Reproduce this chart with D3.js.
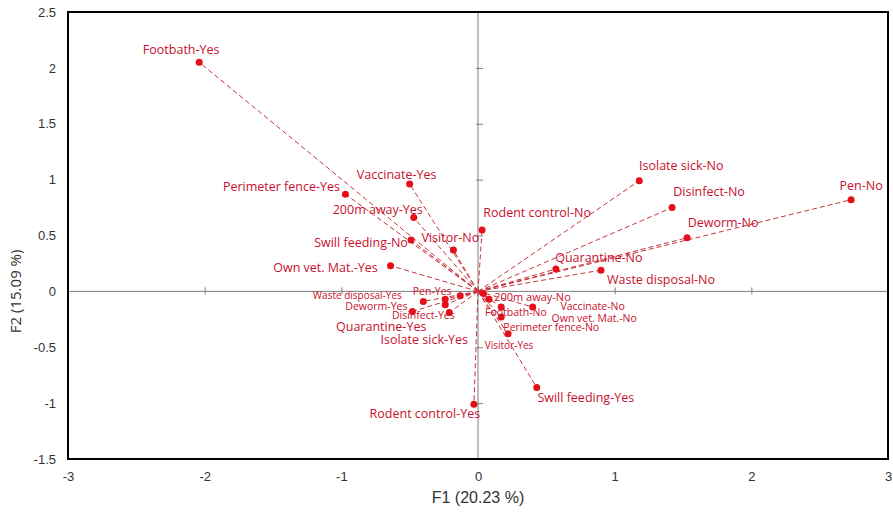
<!DOCTYPE html>
<html><head><meta charset="utf-8">
<script src="https://cdn.jsdelivr.net/npm/d3@7"></script>
<style>body{margin:0;background:#fff}svg{display:block}</style>
</head><body><svg id="c" width="893" height="517"></svg>
<script>
// ---- data ----
const labels = ["Footbath-Yes","Perimeter fence-Yes","Vaccinate-Yes","200m away-Yes","Swill feeding-No","Visitor-No","Own vet. Mat.-Yes","Rodent control-No","Isolate sick-No","Disinfect-No","Pen-No","Deworm-No","Quarantine-No","Waste disposal-No","Swill feeding-Yes","Rodent control-Yes","Waste disposal-Yes","Pen-Yes","Deworm-Yes","Disinfect-Yes","Quarantine-Yes","Isolate sick-Yes","200m away-No","Footbath-No","Vaccinate-No","Own vet. Mat.-No","Perimeter fence-No","Visitor-Yes"];
const f1 = [-2.04,-0.97,-0.50,-0.47,-0.49,-0.18,-0.64,0.03,1.18,1.42,2.73,1.53,0.57,0.90,0.43,-0.03,-0.40,-0.24,-0.48,-0.21,-0.24,-0.13,0.04,0.08,0.40,0.17,0.17,0.22];
const f2 = [2.05,0.87,0.96,0.66,0.46,0.37,0.23,0.55,0.99,0.75,0.82,0.48,0.20,0.19,-0.86,-1.01,-0.09,-0.07,-0.18,-0.19,-0.12,-0.04,-0.02,-0.07,-0.14,-0.14,-0.23,-0.38];
const xTicks = [-3,-2,-1,0,1,2,3];
const yTicks = [-1.5,-1,-0.5,0,0.5,1,1.5,2,2.5];
const xTitle = "F1 (20.23 %)";
const yTitle = "F2 (15.09 %)";

// ---- layout (label placement relative to point, in px; font size) ----
const labelLayout = {
 "Footbath-Yes":[-18,-13,12.5],"Perimeter fence-Yes":[-64,-8,12.5],"Vaccinate-Yes":[-13,-10,12.5],
 "200m away-Yes":[-36,-8,12.5],"Swill feeding-No":[-50,3,12.5],"Visitor-No":[-3,-13,12.5],
 "Own vet. Mat.-Yes":[-65,2,12.5],"Rodent control-No":[55,-17,12.5],"Isolate sick-No":[42,-15,12.5],
 "Disinfect-No":[37,-16,12.5],"Pen-No":[10,-14,12.5],"Deworm-No":[36,-15,12.5],
 "Quarantine-No":[43,-12,12.5],"Waste disposal-No":[60,9,12.5],"Swill feeding-Yes":[49,10,12.5],
 "Rodent control-Yes":[-49,9,12.5],"Waste disposal-Yes":[-66,-6.5,10],"Pen-Yes":[-13,-8,10.5],
 "Deworm-Yes":[-36,-5,10.5],"Disinfect-Yes":[-26,2,10.5],"Quarantine-Yes":[-64,22,12.5],
 "Isolate sick-Yes":[-36,44,12.5],"200m away-No":[49,3,11],"Footbath-No":[27,13,10.5],
 "Vaccinate-No":[60,-1,10.5],"Own vet. Mat.-No":[93,11,10.5],"Perimeter fence-No":[50,10,10.5],
 "Visitor-Yes":[1,11,10]
};

const svg = d3.select("#c");
const L=68, R=888, T=12, B=459;
const x = d3.scaleLinear().domain([-3,3]).range([L,R]);
const y = d3.scaleLinear().domain([-1.5,2.5]).range([B,T]);
const red="#e3101a", lineRed="#c8333a", textRed="#c8102e";

// zero lines
svg.append("line").attr("x1",L).attr("x2",R).attr("y1",y(0)).attr("y2",y(0)).attr("stroke","#7f7f7f").attr("stroke-width",1);
svg.append("line").attr("y1",T).attr("y2",B).attr("x1",x(0)).attr("x2",x(0)).attr("stroke","#7f7f7f").attr("stroke-width",1);
// tick marks on zero lines
svg.append("g").attr("transform",`translate(${x(0)},0)`)
  .call(d3.axisRight(y).tickValues(yTicks).tickSize(5).tickFormat(""))
  .call(g=>{g.select(".domain").remove();g.selectAll("line").attr("stroke","#7f7f7f").attr("x1",-2);});
svg.append("g").attr("transform",`translate(0,${y(0)})`)
  .call(d3.axisTop(x).tickValues(xTicks).tickSize(4).tickFormat(""))
  .call(g=>{g.select(".domain").remove();g.selectAll("line").attr("stroke","#7f7f7f").attr("y1",3);});

// axes labels
const yAx = svg.append("g").attr("transform",`translate(${L},0)`)
  .call(d3.axisLeft(y).tickValues(yTicks).tickSize(0).tickPadding(12).tickFormat(d=>String(d)));
yAx.select(".domain").remove();
yAx.selectAll("text").attr("font-family","Liberation Sans Narrow, Liberation Sans, sans-serif").attr("font-size",13).attr("fill","#333");
const xAx = svg.append("g").attr("transform",`translate(0,${B})`)
  .call(d3.axisBottom(x).tickValues(xTicks).tickSize(0).tickPadding(13).tickFormat(d=>String(d)));
xAx.select(".domain").remove();
xAx.selectAll("text").attr("font-family","Liberation Sans Narrow, Liberation Sans, sans-serif").attr("font-size",13).attr("fill","#333");

svg.append("text").attr("x",x(0)).attr("y",503).attr("text-anchor","middle")
  .attr("font-family","Liberation Sans Narrow, Liberation Sans, sans-serif").attr("font-size",16).attr("fill","#333").text(xTitle);
svg.append("text").attr("transform",`translate(21,${y(0)}) rotate(-90)`).attr("text-anchor","middle")
  .attr("font-family","Open Sans, sans-serif").attr("font-size",15).attr("fill","#333").text(yTitle);

// data
const pts = labels.map((l,i)=>({l,x:f1[i],y:f2[i]}));
svg.append("g").selectAll("line").data(pts).join("line")
  .attr("x1",x(0)).attr("y1",y(0)).attr("x2",d=>x(d.x)).attr("y2",d=>y(d.y))
  .attr("stroke",lineRed).attr("stroke-width",1).attr("stroke-dasharray","5,3");
svg.append("g").selectAll("circle").data(pts).join("circle")
  .attr("cx",d=>x(d.x)).attr("cy",d=>y(d.y)).attr("r",3.5).attr("fill",red);
svg.append("g").selectAll("text").data(pts).join("text")
  .attr("x",d=>x(d.x)+labelLayout[d.l][0]).attr("y",d=>y(d.y)+labelLayout[d.l][1])
  .attr("text-anchor","middle").attr("dominant-baseline","central")
  .attr("font-family","Open Sans, sans-serif").attr("font-size",d=>labelLayout[d.l][2])
  .attr("fill",textRed).text(d=>d.l);

// frame
svg.append("rect").attr("x",L).attr("y",T).attr("width",R-L).attr("height",B-T)
  .attr("fill","none").attr("stroke","#000").attr("stroke-width",2);
</script></body></html>
